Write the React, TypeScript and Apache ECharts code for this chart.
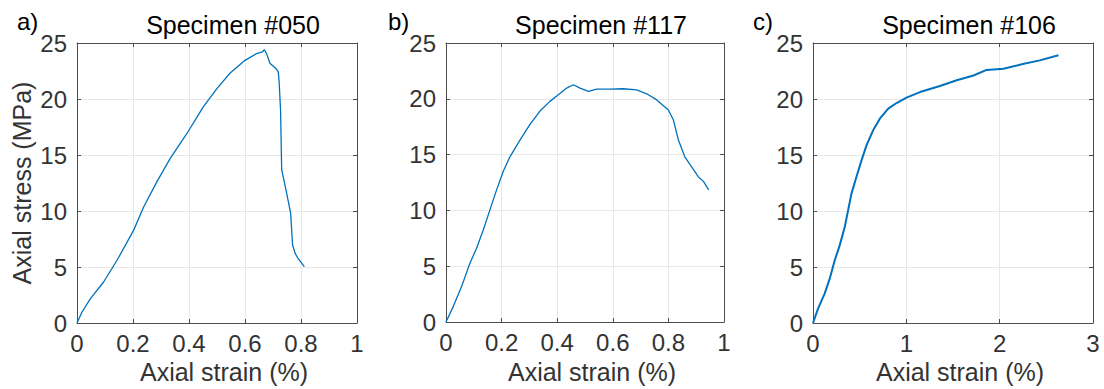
import React, { useEffect, useRef } from "react";
import * as echarts from "echarts";

const strainA = [0, 0.018, 0.048, 0.095, 0.143, 0.202, 0.238, 0.285, 0.333, 0.392, 0.451, 0.499, 0.546, 0.6, 0.641, 0.662, 0.669, 0.677, 0.689, 0.713, 0.719, 0.722, 0.727, 0.731, 0.749, 0.763, 0.77, 0.779, 0.79, 0.812];
const stressA = [0, 0.98, 2.17, 3.66, 5.6, 8.27, 10.36, 12.6, 14.7, 16.9, 19.3, 20.9, 22.3, 23.45, 24.05, 24.2, 24.4, 24.05, 23.2, 22.65, 22.4, 21.5, 19.0, 13.7, 11.58, 9.79, 6.96, 6.22, 5.74, 5.03];

const strainB = [0, 0.026, 0.056, 0.086, 0.11, 0.134, 0.158, 0.182, 0.206, 0.23, 0.266, 0.302, 0.338, 0.374, 0.404, 0.434, 0.458, 0.482, 0.512, 0.542, 0.59, 0.638, 0.686, 0.722, 0.758, 0.8, 0.818, 0.836, 0.859, 0.878, 0.908, 0.926, 0.945];
const stressB = [0, 1.38, 3.17, 5.26, 6.6, 8.25, 10.05, 11.84, 13.5, 14.8, 16.3, 17.7, 18.9, 19.77, 20.36, 20.96, 21.26, 20.96, 20.66, 20.87, 20.87, 20.9, 20.8, 20.45, 19.9, 19.0, 18.1, 16.3, 14.8, 14.1, 13.0, 12.6, 11.84];

const strainC = [0, 0.054, 0.125, 0.179, 0.233, 0.286, 0.34, 0.376, 0.412, 0.465, 0.519, 0.573, 0.644, 0.716, 0.806, 0.895, 1.002, 1.146, 1.36, 1.54, 1.72, 1.86, 2.04, 2.26, 2.43, 2.63];
const stressC = [0, 1.28, 2.62, 3.96, 5.6, 6.93, 8.57, 10.06, 11.55, 13.04, 14.5, 15.86, 17.2, 18.24, 19.14, 19.64, 20.12, 20.62, 21.16, 21.67, 22.1, 22.6, 22.7, 23.15, 23.45, 23.9];

const titles = ["Specimen #050", "Specimen #117", "Specimen #106"];
const panelLabels = ["a)", "b)", "c)"];
const xMax = [1, 1, 3];
const xInterval = [0.2, 0.2, 1];
const yMax = 25;
const yInterval = 5;
const xLabel = "Axial strain (%)";
const yLabel = "Axial stress (MPa)";

const FONT = "'Liberation Sans', Arial, Helvetica, sans-serif";
const AXIS_COLOR = "#4d4d4d";
const LABEL_COLOR = "#333333";
const GRID_COLOR = "#e8e8e8";
const LINE_COLOR = "#0072BD";

const grids = [
  { left: 77, top: 43, width: 280, height: 280 },
  { left: 446, top: 43, width: 278, height: 279 },
  { left: 813, top: 43, width: 280, height: 280 },
];

export default function App() {
  const ref = useRef<HTMLDivElement>(null);
  useEffect(() => {
    if (!ref.current) return;
    const chart = echarts.init(ref.current, null, { renderer: "svg" });
    const xAxes: any[] = [];
    const yAxes: any[] = [];
    grids.forEach((g, i) => {
      const base = {
        gridIndex: i,
        type: "value",
        min: 0,
        axisLine: { show: true, onZero: false, lineStyle: { color: AXIS_COLOR, width: 1 } },
        axisTick: { show: true, inside: true, length: 4, lineStyle: { color: AXIS_COLOR } },
      };
      xAxes.push({
        ...base,
        position: "bottom",
        max: xMax[i],
        interval: xInterval[i],
        axisLabel: { show: true, color: LABEL_COLOR, fontSize: 24, fontFamily: FONT, margin: 8 },
        splitLine: { show: true, lineStyle: { color: GRID_COLOR, width: 1 } },
      });
      xAxes.push({
        ...base,
        position: "top",
        max: xMax[i],
        interval: xInterval[i],
        axisLabel: { show: false },
        splitLine: { show: false },
      });
      yAxes.push({
        ...base,
        position: "left",
        max: yMax,
        interval: yInterval,
        axisLabel: { show: true, color: LABEL_COLOR, fontSize: 24, fontFamily: FONT, margin: 10 },
        splitLine: { show: true, lineStyle: { color: GRID_COLOR, width: 1 } },
      });
      yAxes.push({
        ...base,
        position: "right",
        max: yMax,
        interval: yInterval,
        axisLabel: { show: false },
        splitLine: { show: false },
      });
    });
    const datasets = [
      [strainA, stressA],
      [strainB, stressB],
      [strainC, stressC],
    ];
    const series = datasets.map(([xs, ys], i) => ({
      type: "line",
      xAxisIndex: i * 2,
      yAxisIndex: i * 2,
      data: xs.map((x, k) => [x, ys[k]]),
      showSymbol: false,
      symbol: "none",
      lineStyle: { color: LINE_COLOR, width: i === 2 ? 2 : 1.3 },
      z: 3,
    }));
    const graphics: any[] = [];
    grids.forEach((g, i) => {
      const cx = g.left + g.width / 2;
      graphics.push({
        type: "text",
        x: cx + 16,
        y: 25,
        style: { text: titles[i], fontSize: 25, fontFamily: FONT, fill: "#000", textAlign: "center", textVerticalAlign: "middle" },
      });
      graphics.push({
        type: "text",
        x: cx + 7,
        y: 372,
        style: { text: xLabel, fontSize: 25, fontFamily: FONT, fill: LABEL_COLOR, textAlign: "center", textVerticalAlign: "middle" },
      });
      graphics.push({
        type: "text",
        x: [17, 388, 753][i],
        y: 21,
        style: { text: panelLabels[i], fontSize: 24, fontFamily: FONT, fill: "#000", textAlign: "left", textVerticalAlign: "middle" },
      });
    });
    graphics.push({
      type: "text",
      x: 22,
      y: 183,
      rotation: Math.PI / 2,
      style: { text: yLabel, fontSize: 25, fontFamily: FONT, fill: LABEL_COLOR, textAlign: "center", textVerticalAlign: "middle" },
    });
    chart.setOption({
      animation: false,
      backgroundColor: "#ffffff",
      grid: grids.map((g) => ({ ...g, containLabel: false })),
      xAxis: xAxes,
      yAxis: yAxes,
      series,
      graphic: graphics,
    });
    return () => chart.dispose();
  }, []);
  return (
    <div
      ref={ref}
      style={{ position: "absolute", left: 0, top: 0, width: 1104, height: 389 }}
    />
  );
}
